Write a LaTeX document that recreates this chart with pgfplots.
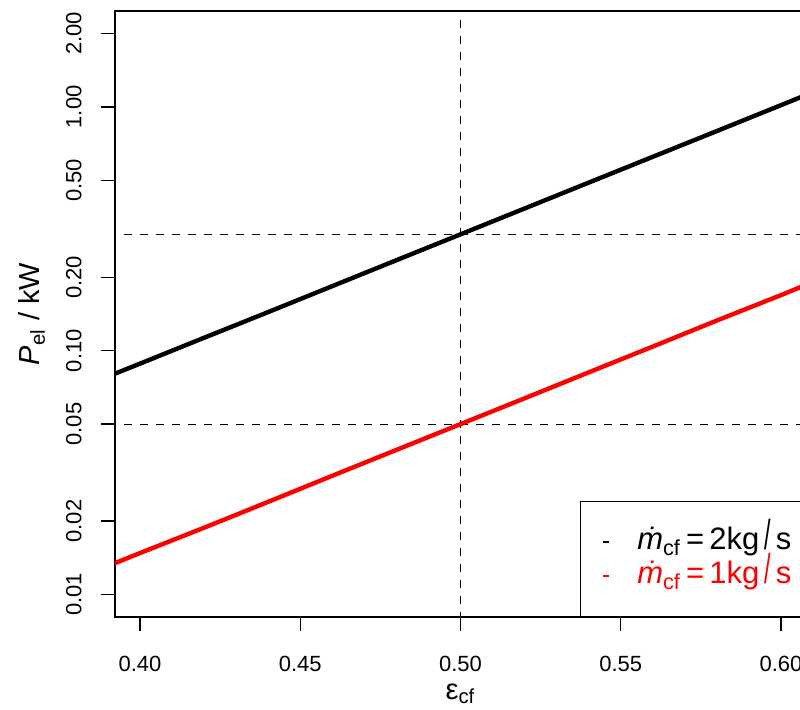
\documentclass[border=0pt]{standalone}
\usepackage{fontspec}
\setmainfont{Liberation Sans}
\usepackage{pgfplots}
\pgfplotsset{compat=1.18}
\begin{document}
\begin{tikzpicture}
\pgfplotsset{myleg/.style={legend image code/.code={\draw[##1, line width=1.4pt] (4.5pt,0pt) -- (7.5pt,0pt); \path[draw=none] (0pt,0pt) -- (21.5pt,0pt);}}}
\begin{axis}[
  at={(57.5pt,46pt)}, anchor=south west,
  scale only axis, width=345.5pt, height=303pt,
  xmin=0.3922, xmax=0.6078,
  ymode=log, ymin=0.00809, ymax=2.472,
  axis line style={line width=0.7pt},
  tick style={line width=0.7pt, black},
  tick align=outside, major tick length=7pt,
  xtick pos=lower, ytick pos=left,
  minor tick num=0, log basis y=10,
  xtick={0.40,0.45,0.50,0.55,0.60},
  xticklabels={0.40,0.45,0.50,0.55,0.60},
  ytick={0.01,0.02,0.05,0.1,0.2,0.5,1,2},
  yticklabels={0.01,0.02,0.05,0.10,0.20,0.50,1.00,2.00},
  yminorticks=false,
  ticklabel style={font=\fontsize{11pt}{13pt}\selectfont},
  xticklabel style={anchor=north, inner sep=0pt},
  xticklabel shift=12.5pt,
  yticklabel style={rotate=90, anchor=south, inner sep=0pt},
  yticklabel shift=9.5pt,
  xlabel={ε\textsubscript{cf}},
  ylabel={\textit{P}\textsubscript{el} / kW},
  label style={font=\fontsize{14.5pt}{17pt}\selectfont},
  xlabel style={at={(rel axis cs:0.5,0)}, anchor=base, yshift=-41pt},
  ylabel style={at={([xshift=-37.5pt]rel axis cs:0,0.5)}, anchor=base, rotate=0},
  legend style={at={(rel axis cs:1,0)}, anchor=south east, draw=black, line width=0.6pt,
    font=\fontsize{15.5pt}{18.5pt}\selectfont, inner xsep=7pt, inner ysep=12.5pt,
    row sep=1.5pt, nodes={inner sep=0pt, text height=11.5pt, text depth=4pt}},
  legend cell align=left,
]
\addplot[black, dash pattern=on 4pt off 4pt, line width=0.5pt, forget plot] coordinates {(0.5,0.005) (0.5,5)};
\addplot[black, dash pattern=on 4pt off 4pt, line width=0.5pt, forget plot] coordinates {(0.38,0.3) (0.62,0.3)};
\addplot[black, dash pattern=on 4pt off 4pt, line width=0.5pt, forget plot] coordinates {(0.38,0.05) (0.62,0.05)};
\addplot[black, line width=2.2pt, myleg] coordinates {
(0.38,0.0694) (0.40,0.0885) (0.42,0.113) (0.44,0.144) (0.46,0.184) (0.48,0.235) (0.50,0.300)
(0.52,0.383) (0.54,0.489) (0.56,0.624) (0.58,0.796) (0.60,1.016) (0.62,1.30)};
\addlegendentry{\textcolor{black}{\textit{\.m}\textsubscript{cf}\,=\,2kg\kern2.5pt\scalebox{0.75}[1.35]{/}\kern2.5pt s}}
\addplot[red, line width=2.2pt, myleg] coordinates {
(0.38,0.0116) (0.40,0.0148) (0.42,0.0188) (0.44,0.0240) (0.46,0.0307) (0.48,0.0392) (0.50,0.0500)
(0.52,0.0638) (0.54,0.0815) (0.56,0.104) (0.58,0.133) (0.60,0.169) (0.62,0.217)};
\addlegendentry{\textcolor{red}{\textit{\.m}\textsubscript{cf}\,=\,1kg\kern2.5pt\scalebox{0.75}[1.35]{/}\kern2.5pt s}}
\end{axis}
\pgfresetboundingbox
\path[use as bounding box] (0,0) rectangle (400pt,354.5pt);
\end{tikzpicture}
\end{document}
